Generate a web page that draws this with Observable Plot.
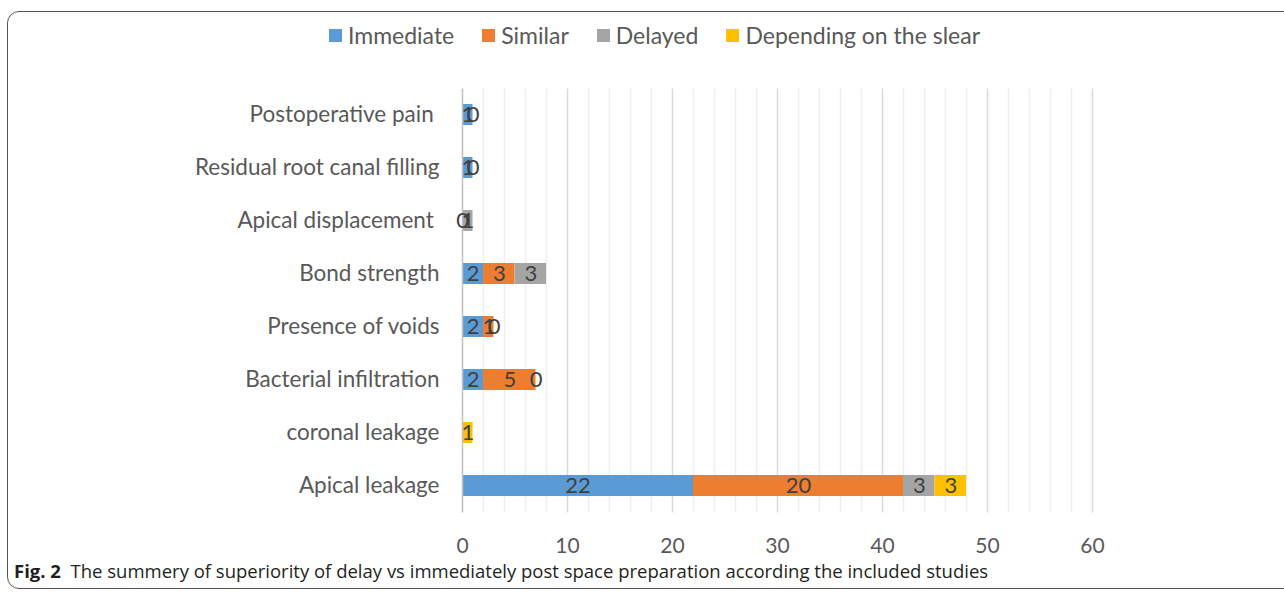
<!DOCTYPE html>
<html>
<head>
<meta charset="utf-8">
<script src="https://cdn.jsdelivr.net/npm/d3@7"></script>
<script src="https://cdn.jsdelivr.net/npm/@observablehq/plot@0.6"></script>
<style>
  html, body { margin: 0; padding: 0; background: #fff; }
  #wrap { position: relative; width: 1284px; height: 592px; overflow: hidden; font-family: Lato, "Open Sans", sans-serif; }
  #frame { position: absolute; left: 7px; top: 11px; width: 1400px; height: 578px; border: 1.5px solid #555; border-radius: 12px; box-sizing: border-box; }
  #legend { position: absolute; top: 21px; left: 0; width: 1284px; display: flex; justify-content: center; gap: 28px; font-size: 23px; color: #595959; padding-left: 25px; box-sizing: border-box; }
  #legend .item { display: flex; align-items: center; gap: 6px; }
  #legend .sw { width: 13px; height: 13px; display: inline-block; }
  #chart { position: absolute; top: 60px; left: 0; }
  #caption { position: absolute; left: 14px; top: 558px; font-size: 18.5px; line-height: normal; color: #231f20; font-family: "Open Sans", sans-serif; white-space: nowrap; }
  #caption b { font-weight: 700; }
</style>
</head>
<body>
<div id="wrap">
  <div id="frame"></div>
  <div id="legend"></div>
  <div id="chart"></div>
  <div id="caption"><b>Fig. 2</b>&nbsp; The summery of superiority of delay vs immediately post space preparation according the included studies</div>
</div>
<script>
const categories = [
  "Postoperative pain\u00a0",
  "Residual root canal filling",
  "Apical displacement\u00a0",
  "Bond strength",
  "Presence of voids",
  "Bacterial infiltration",
  "coronal leakage",
  "Apical leakage"
];
const seriesNames = ["Immediate", "Similar", "Delayed", "Depending on the slear"];
const seriesColors = ["#5b9bd5", "#ed7d31", "#a5a5a5", "#ffc000"];
const immediate = [1, 1, 0, 2, 2, 2, null, 22];
const similar   = [0, 0, null, 3, 1, 5, null, 20];
const delayed   = [null, null, 1, 3, 0, 0, null, 3];
const depending = [null, null, null, null, null, null, 1, 3];
const xTicks = [0, 10, 20, 30, 40, 50, 60];
const minorTicks = d3.range(2, 60, 2).filter(v => v % 10 !== 0);
const majorTicks = [10, 20, 30, 40, 50, 60];

const seriesValues = [immediate, similar, delayed, depending];
const data = [];
categories.forEach((c, i) => {
  seriesValues.forEach((vals, s) => {
    if (vals[i] !== null) data.push({cat: c, series: seriesNames[s], value: vals[i]});
  });
});

// legend
const legend = document.getElementById("legend");
seriesNames.forEach((n, i) => {
  const it = document.createElement("div");
  it.className = "item";
  it.innerHTML = `<span class="sw" style="background:${seriesColors[i]}"></span><span>${n}</span>`;
  legend.appendChild(it);
});

const chart = Plot.plot({
  width: 1284,
  height: 500,
  marginLeft: 462,
  marginRight: 192,
  marginTop: 28.5,
  marginBottom: 47.5,
  style: {fontFamily: "Lato, 'Open Sans', sans-serif", fontSize: "22px", color: "#595959", background: "transparent"},
  x: {domain: [0, 60]},
  y: {domain: categories, paddingInner: 0.6, paddingOuter: 0.3},
  color: {domain: seriesNames, range: seriesColors},
  marks: [
    Plot.ruleX(minorTicks, {stroke: "#efefef", strokeWidth: 1.5}),
    Plot.ruleX(majorTicks, {stroke: "#d9d9d9", strokeWidth: 1.5}),
    Plot.barX(data, Plot.stackX({x: "value", y: "cat", fill: "series", z: "series", order: seriesNames, inset: 0})),
    Plot.ruleX([0], {stroke: "#bfbfbf", strokeWidth: 1.5}),
    Plot.text(data, Plot.stackX({x: "value", y: "cat", z: "series", order: seriesNames, text: d => String(d.value), fill: "#404040", fontSize: 22})),
    Plot.axisX({ticks: xTicks, tickSize: 0, tickPadding: 25, label: null, fontSize: 21, color: "#595959"}),
    Plot.axisY({tickSize: 0, tickPadding: 23, label: null, fontSize: 22.5, color: "#595959"})
  ]
});
document.getElementById("chart").appendChild(chart);
</script>
</body>
</html>
